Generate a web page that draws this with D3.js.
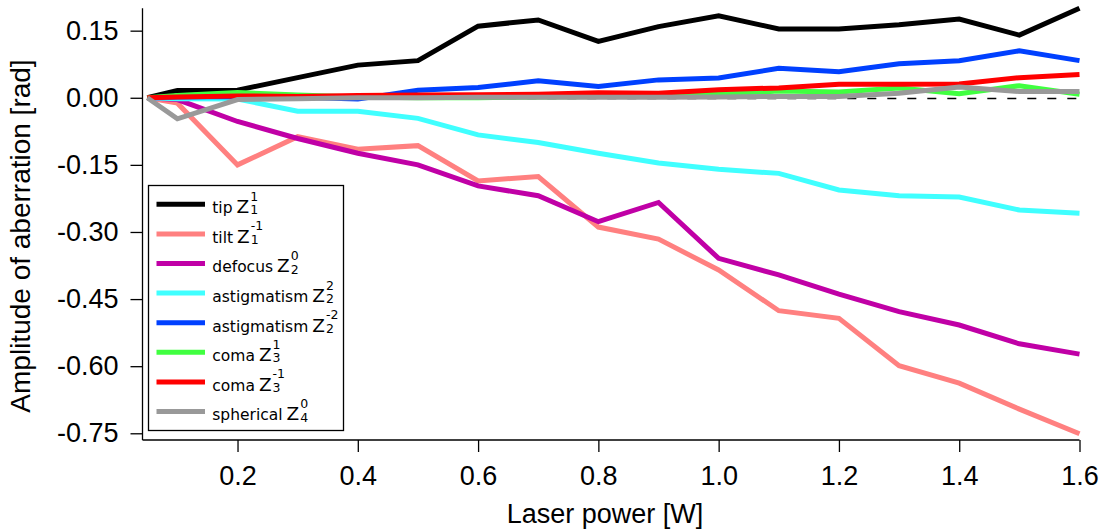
<!DOCTYPE html>
<html>
<head>
<meta charset="utf-8">
<script src="https://cdn.jsdelivr.net/npm/d3@7"></script>
<style>
  html, body { margin: 0; padding: 0; background: #fff; }
  svg { display: block; }
</style>
</head>
<body>
<svg id="chart" width="1108" height="530"></svg>
<script>
// ---- data ----
const laserPower = [0.05, 0.1, 0.2, 0.3, 0.4, 0.5, 0.6, 0.7, 0.8, 0.9, 1.0, 1.1, 1.2, 1.3, 1.4, 1.5, 1.6];
const tip        = [0, 0.016, 0.017, 0.045, 0.073, 0.083, 0.160, 0.174, 0.126, 0.159, 0.183, 0.154, 0.154, 0.163, 0.176, 0.140, 0.200];
const tilt       = [0, -0.012, -0.150, -0.087, -0.115, -0.107, -0.186, -0.176, -0.289, -0.316, -0.385, -0.476, -0.493, -0.599, -0.638, -0.696, -0.751];
const defocus    = [0, -0.004, -0.053, -0.091, -0.124, -0.150, -0.197, -0.219, -0.277, -0.234, -0.359, -0.396, -0.439, -0.478, -0.508, -0.550, -0.573];
const astig22    = [0, -0.002, -0.003, -0.030, -0.030, -0.046, -0.083, -0.100, -0.124, -0.146, -0.160, -0.169, -0.206, -0.219, -0.222, -0.251, -0.258];
const astig2m2   = [0, 0.002, 0.003, 0.001, -0.003, 0.017, 0.023, 0.038, 0.025, 0.040, 0.044, 0.066, 0.058, 0.076, 0.083, 0.105, 0.083];
const coma31     = [0, 0.005, 0.012, 0.006, 0.002, 0.000, 0.000, 0.002, 0.003, 0.005, 0.008, 0.015, 0.013, 0.022, 0.009, 0.027, 0.008];
const coma3m1    = [0, 0.002, 0.004, 0.003, 0.005, 0.006, 0.007, 0.008, 0.011, 0.010, 0.018, 0.022, 0.030, 0.030, 0.031, 0.045, 0.052];
const spherical  = [0, -0.047, -0.004, -0.002, 0.000, 0.000, 0.001, 0.001, 0.001, 0.001, 0.002, 0.003, 0.003, 0.010, 0.024, 0.014, 0.014];

const seriesNames = ["tip", "tilt", "defocus", "astigmatism", "astigmatism", "coma", "coma", "spherical"];
const zernikeSup  = ["1", "-1", "0", "2", "-2", "1", "-1", "0"];
const zernikeSub  = ["1", "1", "2", "2", "2", "3", "3", "4"];
const seriesColors = ["#000000", "#ff8080", "#c000a6", "#40ffff", "#0040ff", "#40ff40", "#ff0000", "#999999"];
const seriesValues = [tip, tilt, defocus, astig22, astig2m2, coma31, coma3m1, spherical];

const xTicks = [0.2, 0.4, 0.6, 0.8, 1.0, 1.2, 1.4, 1.6];
const yTicks = [0.15, 0.00, -0.15, -0.30, -0.45, -0.60, -0.75];
const xTitle = "Laser power [W]";
const yTitle = "Amplitude of aberration [rad]";

// ---- layout ----
const svg = d3.select("#chart");
const x = d3.scaleLinear().domain([0.042, 1.6]).range([142.5, 1079.5]);
const y = d3.scaleLinear().domain([-0.765, 0.2]).range([440, 8.3]);

const tickFont = "'Liberation Sans', Arial, sans-serif";

// zero dashed line
svg.append("line")
  .attr("x1", x(0.05)).attr("x2", x(1.6))
  .attr("y1", Math.round(y(0)) + 0.5).attr("y2", Math.round(y(0)) + 0.5)
  .attr("stroke", "#000").attr("stroke-width", 1.6)
  .attr("stroke-dasharray", "9,11");

// series lines
const line = d3.line().x(d => x(d[0])).y(d => y(d[1]));
seriesValues.forEach((vals, i) => {
  svg.append("path")
    .datum(laserPower.map((p, k) => [p, vals[k]]))
    .attr("fill", "none")
    .attr("stroke", seriesColors[i])
    .attr("stroke-width", 5)
    .attr("stroke-linejoin", "miter")
    .attr("d", line);
});

// axes
const yAxis = d3.axisLeft(y).tickValues(yTicks).tickSize(12).tickPadding(12)
  .tickFormat(d3.format(".2f"));
const gy = svg.append("g").attr("transform", `translate(${x.range()[0]},0)`).call(yAxis);
gy.select(".domain").attr("stroke-width", 1.3).attr("d", `M0,${y.range()[1]}V${y.range()[0]}`);
gy.selectAll(".tick line").attr("stroke-width", 1.3);
gy.selectAll(".tick text")
  .attr("font-family", tickFont).attr("font-size", 27).attr("fill", "#000")
  .text(d => d3.format(".2f")(d).replace("−", "-"));

const xAxis = d3.axisBottom(x).tickValues(xTicks).tickSize(12).tickPadding(14)
  .tickFormat(d3.format(".1f"));
const gx = svg.append("g").attr("transform", `translate(0,${y.range()[0]})`).call(xAxis);
gx.select(".domain").attr("stroke-width", 1.3).attr("d", `M${x.range()[0]},0H${x.range()[1]}`);
gx.selectAll(".tick line").attr("stroke-width", 1.3);
gx.selectAll(".tick text")
  .attr("font-family", tickFont).attr("font-size", 27).attr("fill", "#000");

// axis titles
svg.append("text")
  .attr("x", 605).attr("y", 523)
  .attr("text-anchor", "middle")
  .attr("font-family", tickFont).attr("font-size", 27)
  .text(xTitle);

svg.append("text")
  .attr("transform", "translate(30,236) rotate(-90)")
  .attr("text-anchor", "middle")
  .attr("font-family", tickFont).attr("font-size", 28)
  .text(yTitle);

// legend
const leg = svg.append("g");
leg.append("rect")
  .attr("x", 148.5).attr("y", 185.5).attr("width", 195).attr("height", 245)
  .attr("fill", "#fff").attr("stroke", "#000").attr("stroke-width", 1.3);

const legFont = "'DejaVu Sans', sans-serif";
seriesNames.forEach((name, i) => {
  const ry = 204.3 + i * 29.6;
  leg.append("line")
    .attr("x1", 156.5).attr("x2", 205).attr("y1", ry).attr("y2", ry)
    .attr("stroke", seriesColors[i]).attr("stroke-width", 5);
  const t = leg.append("text")
    .attr("x", 212.3).attr("y", ry + 8.8)
    .attr("font-family", legFont).attr("font-size", 15.5)
    .text(name);
  const w = t.node().getComputedTextLength() + 4;
  const z = leg.append("text")
    .attr("x", 212.3 + w).attr("y", ry + 8.8)
    .attr("font-family", legFont).attr("font-size", 18.5)
    .text("Z");
  const zw = z.node().getComputedTextLength();
  const sx = 212.3 + w + zw + 1;
  leg.append("text").attr("x", sx).attr("y", ry - 3.5)
    .attr("font-family", legFont).attr("font-size", 12.5).text(zernikeSup[i]);
  leg.append("text").attr("x", sx).attr("y", ry + 10)
    .attr("font-family", legFont).attr("font-size", 12.5).text(zernikeSub[i]);
});
</script>
</body>
</html>
